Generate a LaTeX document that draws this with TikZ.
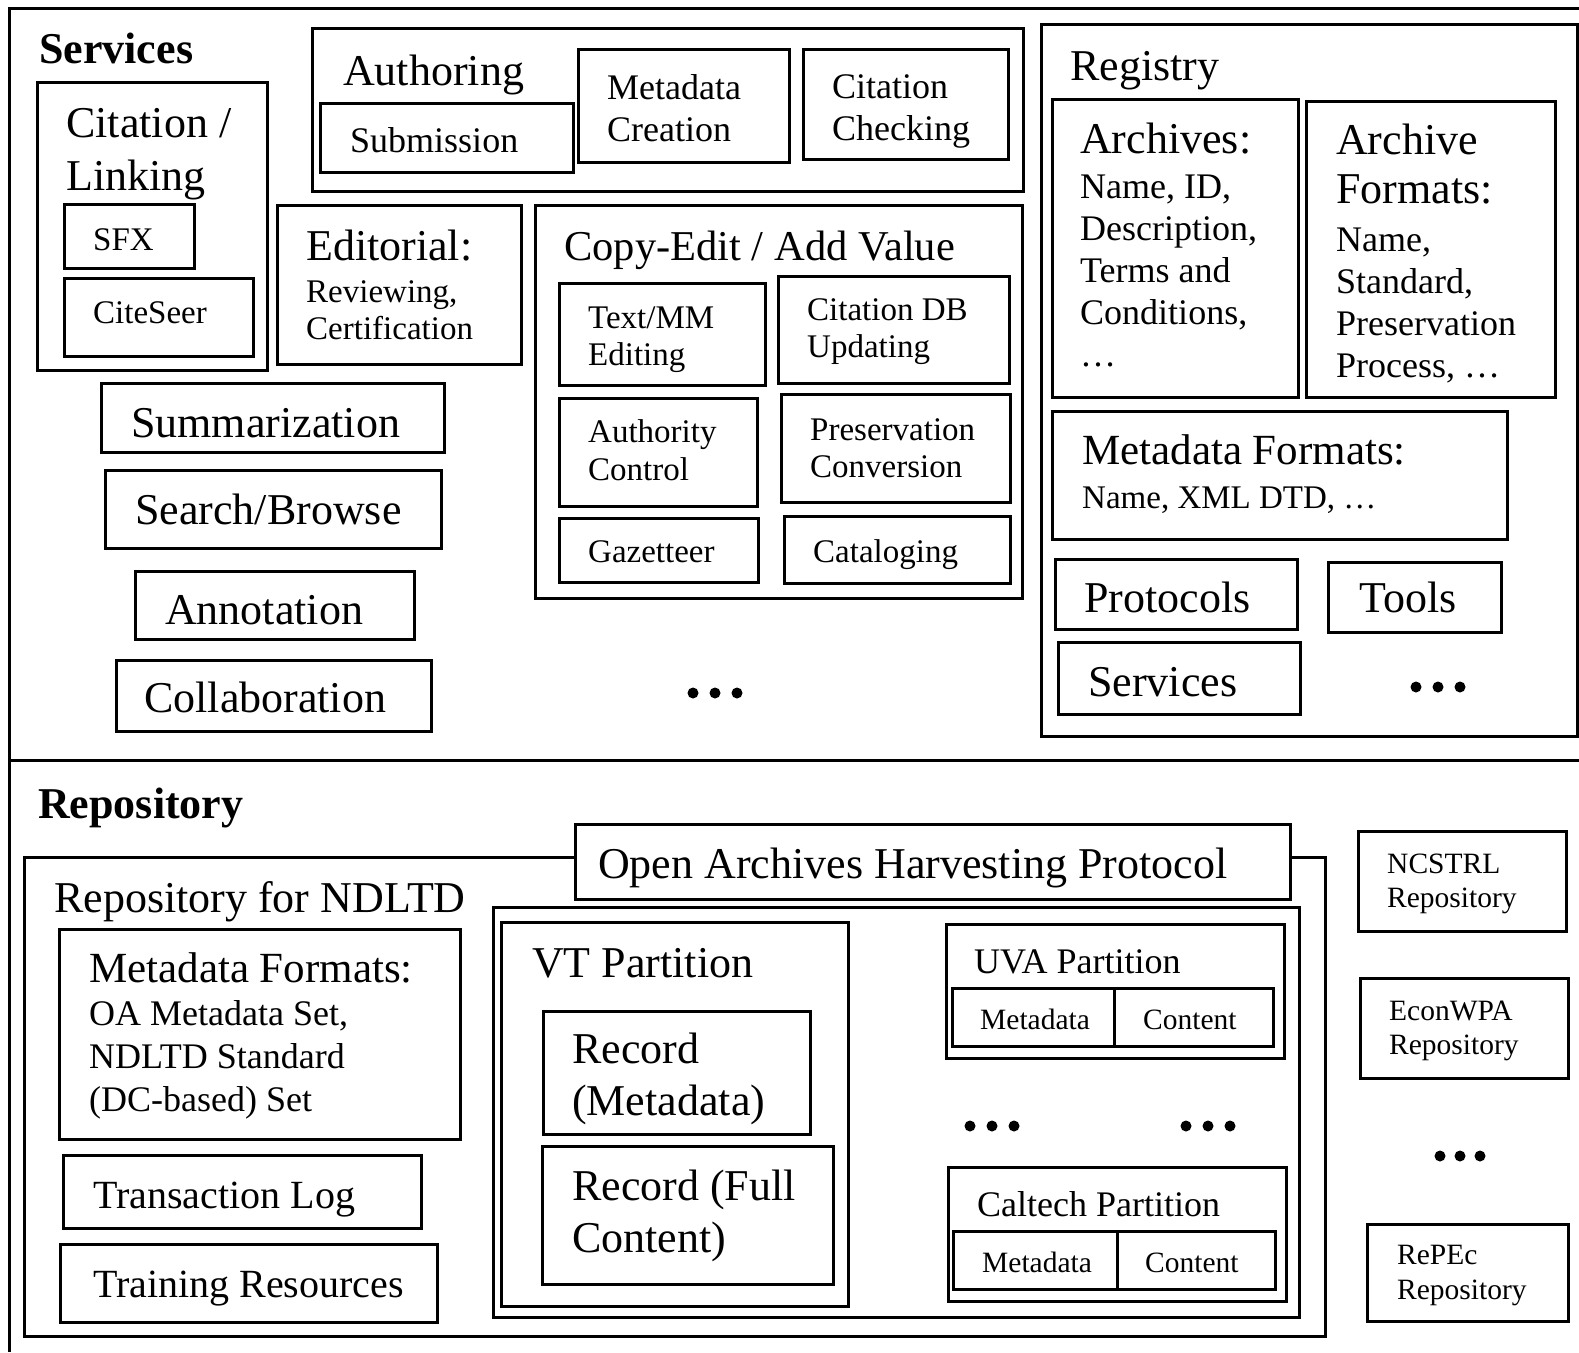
\documentclass[tikz,border=0pt]{standalone}
\usepackage{fontspec}
\setmainfont{Liberation Serif}
\begin{document}
\begin{tikzpicture}[x=1pt,y=-1pt,
  box/.style={draw,line width=3pt},
  txt/.style={anchor=base west,inner sep=0pt,align=left},
  sz44/.style={txt,font=\fontsize{44}{53}\selectfont},
  sz40/.style={txt,font=\fontsize{40}{46}\selectfont},
  sz36/.style={txt,font=\fontsize{36}{42}\selectfont},
  sz33/.style={txt,font=\fontsize{33}{37}\selectfont},
  sz29/.style={txt,font=\fontsize{29.5}{34}\selectfont},
  head/.style={txt,font=\fontsize{44}{53}\selectfont\bfseries}]
\useasboundingbox (0,0) rectangle (1579,1352);

% frame
\draw[line width=3pt] (1579,8) -- (9,8) -- (9,1352);
\draw[line width=3pt] (9,760) -- (1579,760);

% services (multi-line texts sit on their last baseline)
\node[head] (srvtitle) at (39,63) {Services};

\draw[box] (37,82) rectangle (267,370);
\node[sz44] (citlink) at (66,190) {Citation /\\Linking};
\draw[box] (64,204) rectangle (194,268);
\node[sz33] (sfx) at (93,250) {SFX};
\draw[box] (64,278) rectangle (253,356);
\node[sz33] (citeseer) at (93,323) {CiteSeer};

\draw[box] (312,28) rectangle (1023,191);
\node[sz44] (authoring) at (343,85) {Authoring};
\draw[box] (320,103) rectangle (573,172);
\node[sz36] (submission) at (350,152) {Submission};
\draw[box] (578,49) rectangle (789,162);
\node[sz36] (metacreate) at (607,141) {Metadata\\Creation};
\draw[box] (803,49) rectangle (1008,159);
\node[sz36] (citcheck) at (832,140) {Citation\\Checking};

\draw[box] (277,205) rectangle (521,364);
\node[sz44] (editorial) at (306,260) {Editorial:};
\node[sz33] (reviewing) at (306,339) {Reviewing,\\Certification};

\draw[box] (535,205) rectangle (1022,598);
\node[sz44,font=\fontsize{42.5}{50}\selectfont] (copyedit) at (564,260) {Copy-Edit / Add Value};
\draw[box] (559,283) rectangle (765,385);
\node[sz33] (textmm) at (588,365) {Text/MM\\Editing};
\draw[box] (778,276) rectangle (1009,383);
\node[sz33] (citdb) at (807,357) {Citation DB\\Updating};
\draw[box] (559,398) rectangle (757,506);
\node[sz33,font=\fontsize{33}{38}\selectfont] (authctl) at (588,480) {Authority\\Control};
\draw[box] (781,394) rectangle (1010,502);
\node[sz33] (presconv) at (810,477) {Preservation\\Conversion};
\draw[box] (559,518) rectangle (758,582);
\node[sz33] (gazet) at (588,562) {Gazetteer};
\draw[box] (784,516) rectangle (1010,583);
\node[sz33] (catalog) at (813,562) {Cataloging};

\draw[box] (101,383) rectangle (444,452);
\node[sz44] (summ) at (131,437) {Summarization};
\draw[box] (105,470) rectangle (441,548);
\node[sz44] (search) at (135,524) {Search/Browse};
\draw[box] (135,571) rectangle (414,639);
\node[sz44] (annot) at (165,624) {Annotation};
\draw[box] (116,660) rectangle (431,731);
\node[sz44] (collab) at (144,712) {Collaboration};
\foreach \dx in {-22,0,22} \fill ({715+\dx},693) circle (5.5);

% registry
\draw[box] (1041,24) rectangle (1577,736);
\node[sz44] (registry) at (1070,80) {Registry};
\draw[box] (1052,99) rectangle (1298,397);
\node[sz44] (archives) at (1080,153) {Archives:};
\node[sz36] (archdet) at (1080,366) {Name, ID,\\Description,\\Terms and\\Conditions,\\\ldots};
\draw[box] (1306,101) rectangle (1555,397);
\node[sz44,font=\fontsize{44}{49}\selectfont] (archfmt) at (1336,203) {Archive\\Formats:};
\node[sz36] (archfmtdet) at (1336,377) {Name,\\Standard,\\Preservation\\Process, \ldots};
\draw[box] (1052,411) rectangle (1507,539);
\node[sz44,font=\fontsize{43}{50}\selectfont] (regmeta) at (1082,464) {Metadata Formats:};
\node[sz33] (regmetadet) at (1082,508) {Name, XML DTD, \ldots};
\draw[box] (1055,559) rectangle (1297,629);
\node[sz44] (protocols) at (1084,612) {Protocols};
\draw[box] (1328,562) rectangle (1501,632);
\node[sz44] (tools) at (1359,612) {Tools};
\draw[box] (1058,642) rectangle (1300,714);
\node[sz44] (regsvc) at (1088,696) {Services};
\foreach \dx in {-22,0,22} \fill ({1438+\dx},687) circle (5.5);

% repository
\node[head] (reptitle) at (38,818) {Repository};
\draw[box] (24,857) rectangle (1325,1336);
\draw[box,fill=white] (575,824) rectangle (1290,899);
\node[sz44] (oahp) at (598,878) {Open Archives Harvesting Protocol};
\node[sz44] (ndltd) at (54,912) {Repository for NDLTD};

\draw[box] (59,929) rectangle (460,1139);
\node[sz44,font=\fontsize{43}{50}\selectfont] (repmeta) at (89,982) {Metadata Formats:};
\node[sz36,font=\fontsize{36}{43}\selectfont] (repmetadet) at (89,1111) {OA Metadata Set,\\NDLTD Standard\\(DC-based) Set};
\draw[box] (63,1155) rectangle (421,1228);
\node[sz40] (translog) at (93,1208) {Transaction Log};
\draw[box] (60,1244) rectangle (437,1322);
\node[sz40] (training) at (93,1297) {Training Resources};

\draw[box] (493,907) rectangle (1299,1317);
\draw[box] (501,922) rectangle (848,1306);
\node[sz44] (vt) at (532,977) {VT Partition};
\draw[box] (543,1011) rectangle (810,1134);
\node[sz44,font=\fontsize{44}{52}\selectfont] (recmeta) at (572,1115) {Record\\(Metadata)};
\draw[box] (542,1146) rectangle (833,1284);
\node[sz44,font=\fontsize{44}{52}\selectfont] (recfull) at (572,1252) {Record (Full\\Content)};

\draw[box] (946,924) rectangle (1284,1058);
\node[sz36] (uva) at (974,973) {UVA Partition};
\draw[box] (952,988) rectangle (1114,1046);
\draw[box] (1114,988) rectangle (1273,1046);
\node[sz29] (uvameta) at (980,1029) {Metadata};
\node[sz29] (uvacont) at (1143,1029) {Content};

\draw[box] (948,1167) rectangle (1286,1301);
\node[sz36] (caltech) at (977,1216) {Caltech Partition};
\draw[box] (953,1231) rectangle (1117,1289);
\draw[box] (1117,1231) rectangle (1275,1289);
\node[sz29] (calmeta) at (982,1272) {Metadata};
\node[sz29] (calcont) at (1145,1272) {Content};

\foreach \dx in {-22,0,22} {
  \fill ({992+\dx},1126) circle (5.5);
  \fill ({1208+\dx},1126) circle (5.5);
}

\draw[box] (1358,831) rectangle (1566,931);
\node[sz29] (ncstrl) at (1387,907) {NCSTRL\\Repository};
\draw[box] (1360,978) rectangle (1568,1078);
\node[sz29] (econwpa) at (1389,1054) {EconWPA\\Repository};
\draw[box] (1367,1224) rectangle (1568,1321);
\node[sz29,font=\fontsize{29.5}{35}\selectfont] (repec) at (1397,1299) {RePEc\\Repository};
\foreach \dx in {-20,0,20} \fill ({1460+\dx},1156) circle (5.5);
\end{tikzpicture}
\end{document}
